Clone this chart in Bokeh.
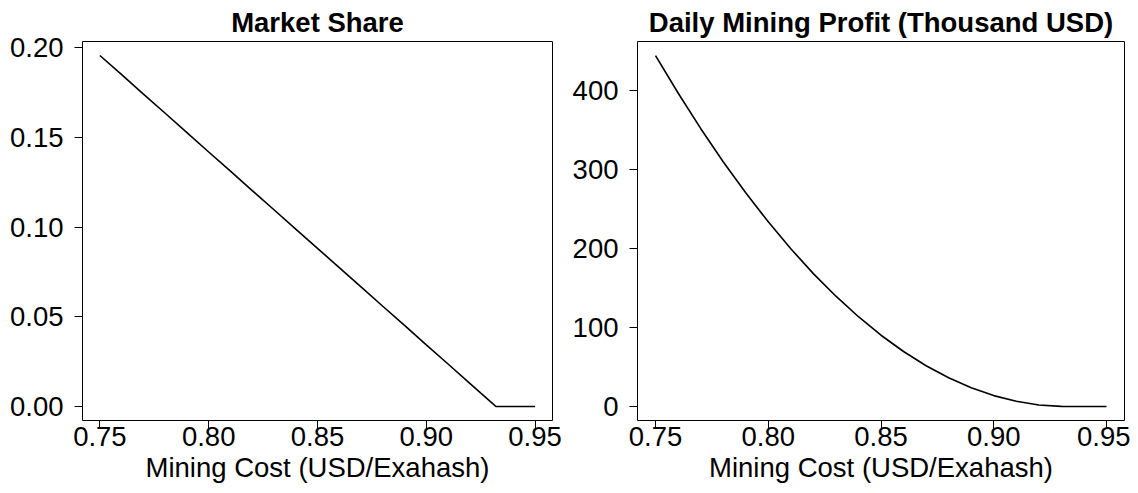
from bokeh.plotting import figure
from bokeh.layouts import row
from bokeh.models import Range1d, FixedTicker, PrintfTickFormatter
from bokeh.embed import file_html
from bokeh.resources import INLINE

# Mining cost (USD/Exahash)
cost = [0.75, 0.76, 0.77, 0.78, 0.79, 0.80, 0.81, 0.82, 0.83, 0.84, 0.85,
        0.86, 0.87, 0.88, 0.89, 0.90, 0.91, 0.92, 0.93, 0.932, 0.94, 0.95]
# Market share
market_share = [0.1957, 0.1850, 0.1742, 0.1635, 0.1527, 0.1419, 0.1312, 0.1204,
                0.1097, 0.0989, 0.0882, 0.0774, 0.0667, 0.0559, 0.0452, 0.0344,
                0.0237, 0.0129, 0.0022, 0.0, 0.0, 0.0]
# Daily mining profit (thousand USD)
daily_profit = [444.0, 396.6, 351.8, 309.7, 270.3, 233.6, 199.5, 168.1, 139.5,
                113.5, 90.1, 69.5, 51.5, 36.2, 23.6, 13.7, 6.5, 1.9, 0.05,
                0.0, 0.0, 0.0]

x_ticks = [0.75, 0.80, 0.85, 0.90, 0.95]
share_ticks = [0.0, 0.05, 0.10, 0.15, 0.20]
profit_ticks = [0, 100, 200, 300, 400]

FONT = "Liberation Sans"
FS = "27.5px"


def make_panel(title, y, y_range, y_ticks, y_fmt, width, bl, br):
    p = figure(width=width, height=485, output_backend="svg", toolbar_location=None,
               x_range=Range1d(0.742, 0.958), y_range=y_range,
               min_border_left=bl, min_border_right=br,
               min_border_top=41, min_border_bottom=0)
    p.title.text = title
    p.title.align = "center"
    p.title.vertical_align = "top"
    p.title.text_font = FONT
    p.title.text_font_size = FS
    p.title.text_font_style = "bold"
    p.title.text_color = "black"
    p.title.standoff = 4
    p.grid.visible = False
    p.background_fill_color = "white"
    p.border_fill_color = "white"
    p.outline_line_color = "black"
    p.outline_line_width = 1

    for ax in (p.xaxis[0], p.yaxis[0]):
        ax.axis_line_color = None
        ax.major_tick_line_color = "black"
        ax.major_tick_out = 8
        ax.major_tick_in = 0
        ax.minor_tick_line_color = None
        ax.major_label_text_font = FONT
        ax.major_label_text_font_size = FS
        ax.major_label_text_color = "black"

    p.xaxis.ticker = FixedTicker(ticks=x_ticks)
    p.xaxis.formatter = PrintfTickFormatter(format="%.2f")
    p.xaxis.major_label_standoff = -2
    p.xaxis.axis_label = "Mining Cost (USD/Exahash)"
    p.xaxis.axis_label_text_font = FONT
    p.xaxis.axis_label_text_font_size = FS
    p.xaxis.axis_label_text_font_style = "normal"
    p.xaxis.axis_label_text_color = "black"
    p.xaxis.axis_label_standoff = 3

    p.yaxis.ticker = FixedTicker(ticks=y_ticks)
    p.yaxis.formatter = PrintfTickFormatter(format=y_fmt)
    p.yaxis.major_label_standoff = 11

    p.line(cost, y, line_color="black", line_width=1.6)
    return p


p1 = make_panel("Market Share", market_share, Range1d(-0.0078, 0.2035),
                share_ticks, "%.2f", 569, 82, 17)
p2 = make_panel("Daily Mining Profit (Thousand USD)", daily_profit,
                Range1d(-17.8, 461.8), profit_ticks, "%d", 561, 67, 6)

layout = row(p1, p2)
open("out.html", "w").write(file_html(layout, INLINE))
